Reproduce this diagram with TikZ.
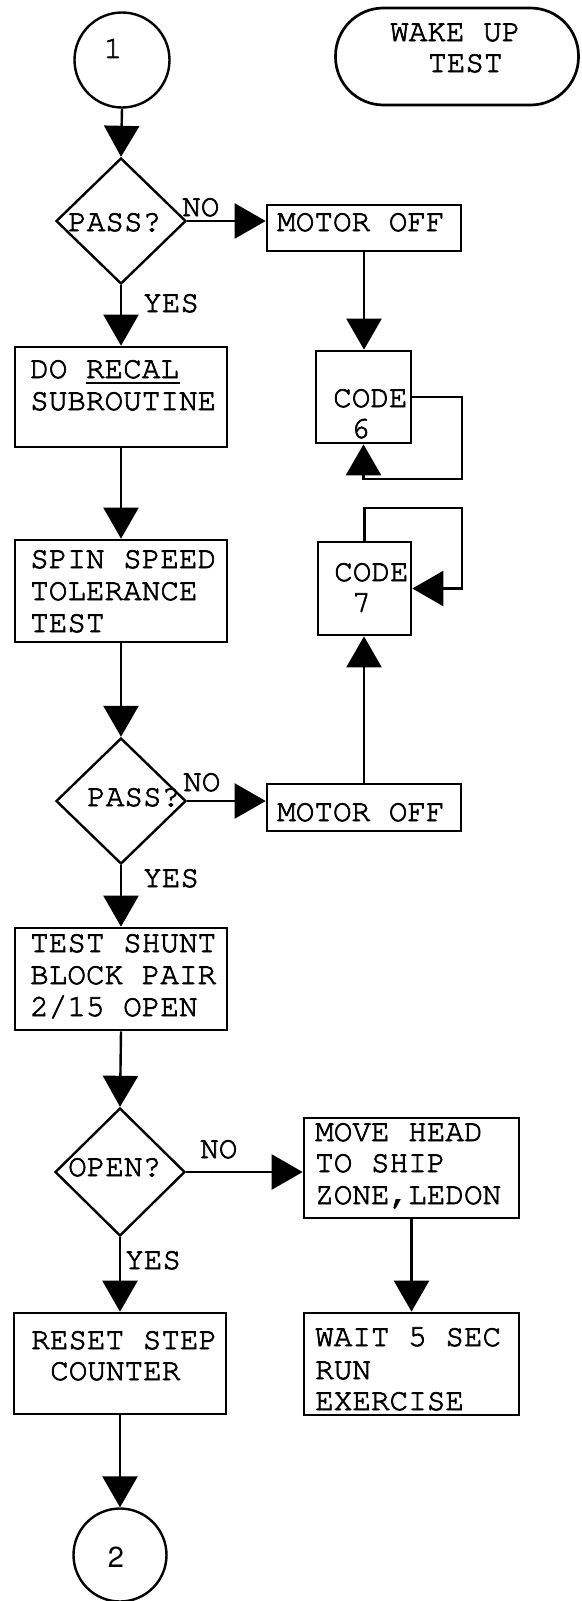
\documentclass[tikz,border=0pt]{standalone}
\usepackage[T1]{fontenc}
\usepackage{courier}
\usetikzlibrary{arrows.meta,shapes.geometric}
\newcommand\monotxt{\fontfamily{pcr}\fontsize{31}{32}\selectfont}
\newcommand\sanstxt{\fontfamily{phv}\fontsize{29}{30}\selectfont}
\newcommand\heavy[1]{\special{pdf:literal q 2 Tr 0.7 w}#1\special{pdf:literal Q}}
\begin{document}
\begin{tikzpicture}[x=1pt,y=-1pt,
  box/.style={draw,line width=2.7pt,rectangle,inner sep=0pt},
  term/.style={draw,line width=2.7pt,rectangle,rounded corners=48pt,inner sep=0pt},
  dia/.style={draw,diamond,line width=2.4pt,inner sep=0pt},
  ring/.style={draw,circle,line width=2.4pt,inner sep=0pt},
  txt/.style={anchor=base west,inner sep=0pt,font=\monotxt},
  conn/.style={line width=2.4pt,-{Triangle[length=31pt,width=35pt]}},
  wire/.style={line width=2.4pt}]
\useasboundingbox (0,0) rectangle (581,1601);

% ---- shapes ----
\node[ring,minimum size=95pt] (c1) at (122,60) {};
\node[term,minimum width=243pt,minimum height=97pt] (wake) at (457,56.5) {};
\node[dia,minimum width=130pt,minimum height=126pt] (d1) at (121,221) {};
\node[box,minimum width=194pt,minimum height=46pt] (mo1) at (364,228) {};
\node[box,minimum width=212pt,minimum height=100pt] (recal) at (121,397) {};
\node[box,minimum width=95pt,minimum height=92pt] (code6) at (363.5,397) {};
\node[box,minimum width=212pt,minimum height=102pt] (spin) at (121,591) {};
\node[box,minimum width=93pt,minimum height=93pt] (code7) at (364.5,588.5) {};
\node[dia,minimum width=130pt,minimum height=126pt] (d2) at (121,801) {};
\node[box,minimum width=194pt,minimum height=47pt] (mo2) at (364,807.5) {};
\node[box,minimum width=212pt,minimum height=102pt] (shunt) at (121,979) {};
\node[dia,minimum width=130pt,minimum height=128pt] (d3) at (120,1172) {};
\node[box,minimum width=215pt,minimum height=100pt] (move) at (411.5,1168) {};
\node[box,minimum width=212pt,minimum height=101pt] (reset) at (120,1363.5) {};
\node[box,minimum width=215pt,minimum height=102pt] (wait) at (411.5,1364) {};
\node[ring,minimum size=93pt] (c2) at (120,1555) {};

% ---- texts ----
\node[anchor=center,inner sep=0pt,font=\monotxt] (t1) at (113,48) {\heavy{1}};
\node[txt] (tw1) at (390,41) {\heavy{WAKE UP}};
\node[txt] (tw2) at (428,72) {\heavy{TEST}};
\node[txt] (tp1) at (68,231) {\heavy{PASS?}};
\node[txt] (tn1) at (182,216) {\heavy{NO}};
\node[txt] (tm1) at (277,231) {\heavy{MOTOR OFF}};
\node[txt] (ty1) at (143,312) {\heavy{YES}};
\node[txt] (tr1) at (30,378) {\heavy{DO RECAL}};
\node[txt] (tr2) at (30,410) {\heavy{SUBROUTINE}};
\node[txt] (tc6a) at (333,407) {\heavy{CODE}};
\node[txt] (tc6b) at (351,438) {\heavy{6}};
\node[txt] (ts1) at (30,568) {\heavy{SPIN SPEED}};
\node[txt] (ts2) at (30,600) {\heavy{TOLERANCE}};
\node[txt] (ts3) at (30,632) {\heavy{TEST}};
\node[txt] (tc7a) at (334,581) {\heavy{CODE}};
\node[txt] (tc7b) at (352,612) {\heavy{7}};
\node[txt] (tp2) at (87,806) {\heavy{PASS?}};
\node[txt] (tn2) at (183,791) {\heavy{NO}};
\node[txt] (tm2) at (277,821) {\heavy{MOTOR OFF}};
\node[txt] (ty2) at (143,887) {\heavy{YES}};
\node[txt] (th1) at (30,952) {\heavy{TEST SHUNT}};
\node[txt] (th2) at (30,984) {\heavy{BLOCK PAIR}};
\node[txt] (th3) at (30,1016) {\heavy{2/15 OPEN}};
\node[txt] (to) at (68,1176) {\heavy{OPEN?}};
\node[txt] (tn3) at (200,1158) {\heavy{NO}};
\node[txt] (ty3) at (125,1269) {\heavy{YES}};
\node[txt] (tv1) at (315,1141) {\heavy{MOVE HEAD}};
\node[txt] (tv2) at (315,1172) {\heavy{TO SHIP}};
\node[txt] (tv3) at (315,1204) {\heavy{ZONE,LEDON}};
\node[txt] (tx1) at (31,1349) {\heavy{RESET STEP}};
\node[txt] (tx2) at (50,1380) {\heavy{COUNTER}};
\node[txt] (tt1) at (315,1346) {\heavy{WAIT 5 SEC}};
\node[txt] (tt2) at (315,1379) {\heavy{RUN}};
\node[txt] (tt3) at (315,1410) {\heavy{EXERCISE}};
\node[anchor=center,inner sep=0pt,font=\sanstxt] (t2) at (116,1557) {2};

% underline of RECAL
\draw[line width=1.8pt] (86,383) -- (180,383);

% ---- connectors ----
\draw[conn] (c1.south) -- (d1.north);
\draw[conn] (d1.east) -- (d1.east -| mo1.west);
\draw[conn] (d1.south) -- (recal.north);
\draw[conn] (mo1.south) -- (mo1.south |- code6.north);
\coordinate (l6a) at (462,397);
\coordinate (l6b) at (462,479);
\draw[conn] (code6.east) -- (l6a) -- (l6b) -| (code6.south);
\draw[conn] (recal.south) -- (spin.north);
\draw[conn] (spin.south) -- (d2.north);
\draw[conn] (d2.east) -- (d2.east -| mo2.west);
\draw[conn] (mo2.north) -- (mo2.north |- code7.south);
\coordinate (l7a) at (462,508);
\coordinate (l7b) at (462,588.5);
\draw[conn] (code7.north) |- (l7a) -- (l7b) -- (code7.east);
\draw[conn] (d2.south) -- (shunt.north);
\draw[conn] (shunt.south) -- (d3.north);
\draw[conn] (d3.east) -- (d3.east -| move.west);
\draw[conn] (move.south) -- (wait.north);
\draw[conn] (d3.south) -- (reset.north);
\draw[conn] (reset.south) -- (c2.north);
\end{tikzpicture}
\end{document}
